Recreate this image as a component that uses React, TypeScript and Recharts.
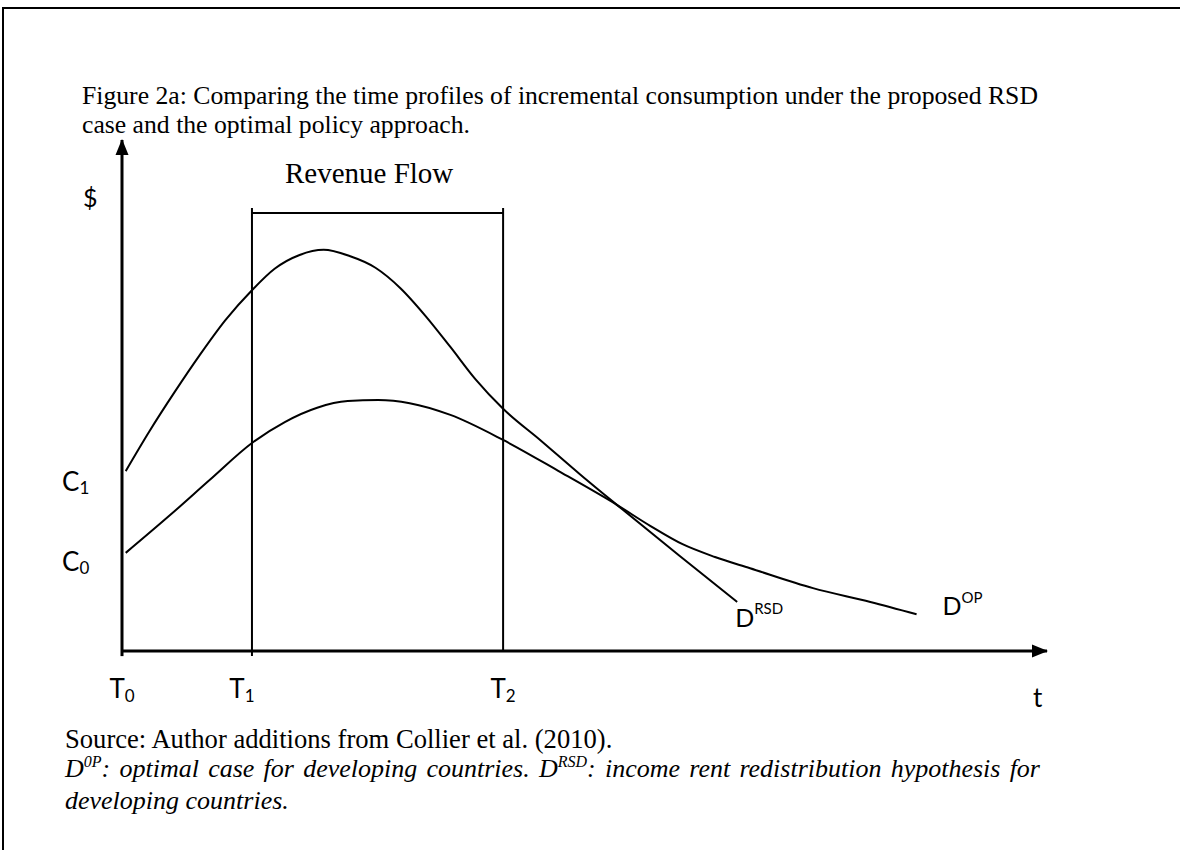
import React from 'react';
import { ComposedChart, Line, XAxis, YAxis, ReferenceLine, ReferenceDot } from 'recharts';

// time axis runs 0..100, value axis 0..100 (arbitrary units)
const rsdTime = [0.4, 3.0, 5.7, 8.4, 11.2, 14.05, 16.5, 19.2, 21.8, 24.6, 27.4, 30.1, 32.8, 35.5, 38.2, 41.2, 45.2, 49.5, 53.5, 60.3, 66.5];
const rsdValue = [35.2, 43.1, 50.7, 57.9, 64.8, 70.6, 74.8, 77.5, 78.5, 77.3, 75.0, 71.0, 65.6, 59.5, 53.2, 47.4, 41.3, 34.6, 28.6, 18.6, 9.6];

const opTime = [0.4, 5.2, 9.5, 14.05, 17.6, 21.1, 24.4, 27.7, 31.1, 35.5, 41.2, 47.4, 53.5, 57.1, 60.6, 64.1, 67.9, 74.7, 80.9, 85.9];
const opValue = [19.2, 26.6, 33.5, 40.7, 44.8, 47.6, 48.9, 49.1, 48.5, 46.2, 41.3, 35.0, 28.6, 24.5, 20.9, 18.4, 16.2, 12.3, 9.6, 7.2];

const timeTicks = [0, 14.05, 41.2, 99];
const timeTickMain = ['T', 'T', 'T', 't'];
const timeTickSub = ['0', '1', '2', ''];

const valueTicks = [17.4, 33.1];
const valueTickMain = ['C', 'C'];
const valueTickSub = ['0', '1'];

const revenueLevel = 85.7;
const revenueLabel = 'Revenue Flow';
const yAxisLabel = '$';

const SANS = 'Lato, "Open Sans", sans-serif';
const SERIF = '"Liberation Serif", "Times New Roman", serif';

const rsdData = rsdTime.map((t, i) => ({ t, v: rsdValue[i] }));
const opData = opTime.map((t, i) => ({ t, v: opValue[i] }));

const T1 = timeTicks[1];
const T2 = timeTicks[2];

const renderTimeTick = (props: any) => {
  const { x, y, payload } = props;
  const i = timeTicks.indexOf(payload.value);
  if (i < 0) return <g />;
  if (timeTickMain[i] === 't') {
    return (
      <text x={x} y={y + 56} textAnchor="middle" fontFamily={SANS} fontSize={26} fill="#000">
        t
      </text>
    );
  }
  const shift = i === 1 ? -10 : 0;
  return (
    <text x={x + shift} y={y + 47} textAnchor="middle" fontFamily={SANS} fontSize={26} fill="#000">
      {timeTickMain[i]}
      <tspan fontSize={17} dy={4}>{timeTickSub[i]}</tspan>
    </text>
  );
};

const renderValueTick = (props: any) => {
  const { x, y, payload } = props;
  const i = valueTicks.indexOf(payload.value);
  if (i < 0) return <g />;
  return (
    <text x={x - 60} y={y + 9} textAnchor="start" fontFamily={SANS} fontSize={26} fill="#000">
      {valueTickMain[i]}
      <tspan fontSize={17} dy={3}>{valueTickSub[i]}</tspan>
    </text>
  );
};

const renderDollar = (props: any) => {
  const vb = props.viewBox || { x: 0, y: 140 };
  return (
    <text x={vb.x + 83} y={vb.y + 67} fontFamily={SANS} fontSize={25} fill="#000">
      {yAxisLabel}
    </text>
  );
};

const renderRevenueLabel = (props: any) => {
  const vb = props.viewBox || { x: 252, y: 213 };
  return (
    <text x={vb.x + 33} y={vb.y - 30} fontFamily={SERIF} fontSize={29} fill="#000">
      {revenueLabel}
    </text>
  );
};

const arrowRight = (p: any) => (
  <polygon points={`${p.cx - 15},${p.cy - 6.5} ${p.cx + 1},${p.cy} ${p.cx - 15},${p.cy + 6.5}`} fill="#000" />
);
const arrowUp = (p: any) => (
  <polygon points={`${p.cx - 6.5},${p.cy + 15} ${p.cx},${p.cy - 1} ${p.cx + 6.5},${p.cy + 15}`} fill="#000" />
);

const rsdEndLabel = (p: any) => (
  <text x={p.cx - 2} y={p.cy + 25} fontFamily={SANS} fontSize={25} fill="#000">
    D<tspan fontSize={15} dy={-13}>RSD</tspan>
  </text>
);
const opEndLabel = (p: any) => (
  <text x={p.cx + 26} y={p.cy + 1} fontFamily={SANS} fontSize={25} fill="#000">
    D<tspan fontSize={15} dy={-12}>OP</tspan>
  </text>
);

const supStyle: React.CSSProperties = { fontSize: 16, position: 'relative', top: -10 };

export default function App() {
  return (
    <div style={{ position: 'absolute', left: 0, top: 0, width: 1180, height: 850, background: '#fff', overflow: 'hidden' }}>
      <div
        style={{
          position: 'absolute', left: 2, top: 7, width: 1178, height: 843,
          borderTop: '2px solid #000', borderLeft: '2px solid #000', boxSizing: 'border-box',
        }}
      />
      <div
        style={{
          position: 'absolute', left: 82, top: 81, fontFamily: SERIF, fontSize: 25.7,
          lineHeight: '29px', color: '#000', whiteSpace: 'nowrap',
        }}
      >
        Figure 2a: Comparing the time profiles of incremental consumption under the proposed RSD
        <br />
        case and the optimal policy approach.
      </div>

      <div style={{ position: 'absolute', left: 0, top: 0 }}>
        <ComposedChart width={1180} height={850} margin={{ top: 140, right: 133, bottom: 139, left: 0 }}>
          <XAxis
            type="number"
            dataKey="t"
            domain={[0, 100]}
            ticks={timeTicks}
            interval={0}
            allowDataOverflow
            tick={renderTimeTick}
            tickLine={false}
            tickSize={0}
            tickMargin={0}
            height={60}
            axisLine={{ stroke: '#000', strokeWidth: 3 }}
          />
          <YAxis
            type="number"
            dataKey="v"
            domain={[0, 100]}
            ticks={valueTicks}
            interval={0}
            allowDataOverflow
            tick={renderValueTick}
            tickLine={false}
            tickSize={0}
            tickMargin={0}
            width={122}
            axisLine={{ stroke: '#000', strokeWidth: 3 }}
            label={renderDollar}
          />
          <ReferenceLine
            segment={[{ x: 0, y: 0 }, { x: 0, y: -1 }]}
            stroke="#000"
            strokeWidth={3}
            ifOverflow="visible"
          />
          <ReferenceLine
            segment={[{ x: T1, y: revenueLevel + 1 }, { x: T1, y: -1 }]}
            stroke="#000"
            strokeWidth={2}
            ifOverflow="visible"
          />
          <ReferenceLine
            segment={[{ x: T2, y: revenueLevel + 1 }, { x: T2, y: 0 }]}
            stroke="#000"
            strokeWidth={2}
            ifOverflow="visible"
          />
          <ReferenceLine
            segment={[{ x: T1, y: revenueLevel }, { x: T2, y: revenueLevel }]}
            stroke="#000"
            strokeWidth={2}
            ifOverflow="visible"
            label={renderRevenueLabel}
          />
          <Line
            data={rsdData}
            dataKey="v"
            type="monotone"
            stroke="#000"
            strokeWidth={2}
            dot={false}
            activeDot={false}
            isAnimationActive={false}
          />
          <Line
            data={opData}
            dataKey="v"
            type="monotone"
            stroke="#000"
            strokeWidth={2}
            dot={false}
            activeDot={false}
            isAnimationActive={false}
          />
          <ReferenceDot x={100} y={0} r={0} ifOverflow="visible" shape={arrowRight} />
          <ReferenceDot x={0} y={100} r={0} ifOverflow="visible" shape={arrowUp} />
          <ReferenceDot
            x={rsdTime[rsdTime.length - 1]}
            y={rsdValue[rsdValue.length - 1]}
            r={0}
            ifOverflow="visible"
            shape={rsdEndLabel}
          />
          <ReferenceDot
            x={opTime[opTime.length - 1]}
            y={opValue[opValue.length - 1]}
            r={0}
            ifOverflow="visible"
            shape={opEndLabel}
          />
        </ComposedChart>
      </div>

      <div
        style={{
          position: 'absolute', left: 65, top: 725, fontFamily: SERIF, fontSize: 26.6,
          lineHeight: '29px', color: '#000', whiteSpace: 'nowrap',
        }}
      >
        Source: Author additions from Collier et al. (2010).
      </div>
      <div
        style={{
          position: 'absolute', left: 65, top: 754, width: 975, fontFamily: SERIF, fontSize: 26,
          lineHeight: '29px', color: '#000', fontStyle: 'italic',
        }}
      >
        <div style={{ textAlign: 'justify', textAlignLast: 'justify', whiteSpace: 'nowrap' }}>
          D<span style={supStyle}>0P</span>: optimal case for developing countries. D<span style={supStyle}>RSD</span>: income rent redistribution hypothesis for
        </div>
        <div>developing countries.</div>
      </div>
    </div>
  );
}
